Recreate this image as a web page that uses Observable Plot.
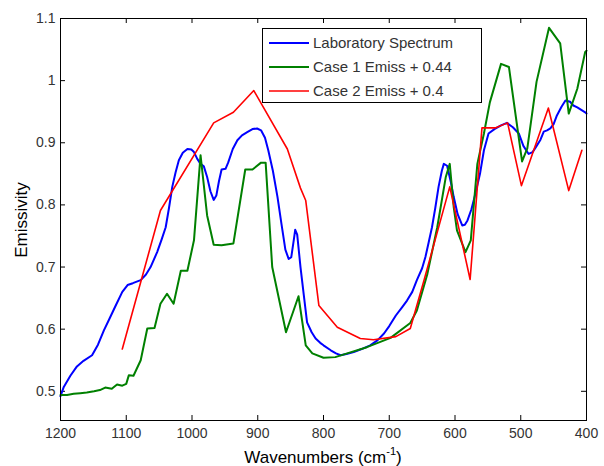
<!DOCTYPE html>
<html>
<head>
<meta charset="utf-8">
<script src="https://cdn.jsdelivr.net/npm/d3@7"></script>
<script src="https://cdn.jsdelivr.net/npm/@observablehq/plot@0.6"></script>
<style>
  html, body { margin: 0; padding: 0; background: #fff; }
</style>
</head>
<body>
<div id="chart"></div>
<script>
// ---- data ----
const xTicks = [1200, 1100, 1000, 900, 800, 700, 600, 500, 400];
const yTicks = [0.5, 0.6, 0.7, 0.8, 0.9, 1.0, 1.1];
const seriesNames = ["Laboratory Spectrum", "Case 1 Emiss + 0.44", "Case 2 Emiss + 0.4"];

const labWn = [1200,1195,1185,1175,1165,1152,1143,1134,1125,1116,1106,1098,1090,1078,1070,1063,1053,1046,1040,1035,1030,1025,1020,1014,1007,1001,997,992,987,982,977,972,967,963,959,955,949,945,938,931,924,916,908,901,895,889,884,877,870,864,858,853,849,845,843,840,835,830,825,818,812,805,800,789,781,774,765,754,742,729,718,708,700,690,680,673,665,658,650,645,640,635,630,625,620,617,612,606,602,596,589,585,581,575,569,562,556,549,540,530,521,512,503,496,488,482,477,470,465,460,455,450,445,438,432,425,420,414,408,402,400];
const labEm = [0.492,0.507,0.525,0.540,0.549,0.558,0.575,0.598,0.618,0.638,0.660,0.671,0.674,0.679,0.688,0.700,0.724,0.745,0.764,0.795,0.829,0.852,0.872,0.884,0.890,0.889,0.885,0.874,0.866,0.862,0.845,0.822,0.808,0.815,0.838,0.857,0.858,0.868,0.890,0.904,0.912,0.917,0.922,0.923,0.920,0.908,0.888,0.855,0.813,0.770,0.728,0.713,0.716,0.745,0.760,0.752,0.700,0.655,0.611,0.595,0.585,0.578,0.574,0.566,0.561,0.558,0.560,0.563,0.568,0.574,0.582,0.593,0.605,0.622,0.636,0.646,0.660,0.679,0.698,0.716,0.740,0.764,0.795,0.829,0.855,0.866,0.863,0.835,0.813,0.785,0.767,0.768,0.775,0.793,0.818,0.850,0.888,0.915,0.922,0.928,0.932,0.925,0.915,0.895,0.882,0.885,0.893,0.905,0.918,0.920,0.923,0.930,0.944,0.958,0.968,0.966,0.960,0.957,0.953,0.949,0.947];

const case1Wn = [1200,1190,1180,1170,1160,1149,1140,1132,1122,1114,1106,1100,1096,1089,1078,1068,1057,1048,1038,1028,1017,1007,997,987,977,967,955,937,919,908,895,888,878,857,838,827,817,800,782,764,734,698,668,658,642,627,614,608,602,597,584,576,566,556,547,530,518,498,490,476,457,440,427,414,402,400];
const case1Em = [0.494,0.494,0.496,0.497,0.498,0.500,0.502,0.506,0.504,0.511,0.509,0.512,0.526,0.525,0.550,0.601,0.602,0.641,0.657,0.641,0.694,0.694,0.743,0.880,0.783,0.736,0.735,0.738,0.857,0.857,0.868,0.868,0.700,0.595,0.653,0.574,0.561,0.554,0.555,0.561,0.571,0.586,0.610,0.630,0.689,0.764,0.845,0.866,0.797,0.759,0.724,0.743,0.866,0.915,0.965,1.027,1.022,0.870,0.891,0.998,1.085,1.060,0.947,0.987,1.046,1.048];

const case2Wn = [1106,1048,967,937,906,855,835,827,807,779,744,724,690,668,647,608,577,559,538,520,499,458,427,407];
const case2Em = [0.568,0.791,0.932,0.949,0.984,0.890,0.827,0.807,0.638,0.603,0.585,0.583,0.588,0.601,0.679,0.829,0.680,0.924,0.924,0.932,0.831,0.956,0.823,0.888];

const colors = ["#0000ff", "#008000", "#ff0000"];

// ---- tables built from the arrays ----
const toRows = (wn, em) => wn.map((w, i) => ({wn: w, em: em[i]}));
const lab = toRows(labWn, labEm);
const case1 = toRows(case1Wn, case1Em);
const case2 = toRows(case2Wn, case2Em);

const fmtY = d => String(+d.toFixed(1));
const font = "'Liberation Sans', Arial, Helvetica, sans-serif";

const W = 604, H = 466, mt = 18, mb = 46, ml = 60, mr = 18;
const tick = 5;
const innerW = W - ml - mr, innerH = H - mt - mb;

const chart = Plot.plot({
  width: W,
  height: H,
  marginTop: mt,
  marginBottom: mb,
  marginLeft: ml,
  marginRight: mr,
  style: {fontFamily: font, fontSize: "14px", background: "#fff", color: "#000"},
  x: {domain: [1200, 400]},
  y: {domain: [0.453, 1.1]},
  marks: [
    Plot.axisX({ticks: xTicks, tickSize: 0, tickPadding: 8, tickFormat: d => String(d), label: null, color: "#333"}),
    Plot.axisY({ticks: yTicks, tickSize: 0, tickPadding: 5, tickFormat: fmtY, label: null, color: "#333"}),
    // inward ticks on all four sides (MATLAB box style)
    Plot.tickX(xTicks, {x: d => d, insetTop: innerH - tick, stroke: "#000"}),
    Plot.tickX(xTicks, {x: d => d, insetBottom: innerH - tick, stroke: "#000"}),
    Plot.tickY(yTicks, {y: d => d, insetRight: innerW - tick, stroke: "#000"}),
    Plot.tickY(yTicks, {y: d => d, insetLeft: innerW - tick, stroke: "#000"}),
    Plot.line(lab, {x: "wn", y: "em", stroke: colors[0], strokeWidth: 2}),
    Plot.line(case1, {x: "wn", y: "em", stroke: colors[1], strokeWidth: 2}),
    Plot.line(case2, {x: "wn", y: "em", stroke: colors[2], strokeWidth: 1.6}),
    Plot.frame({stroke: "#000", strokeWidth: 1})
  ]
});

document.getElementById("chart").appendChild(chart);

// ---- axis titles and legend ----
const svg = d3.select(chart);

svg.append("text")
  .attr("transform", "translate(27,220) rotate(-90)")
  .attr("text-anchor", "middle")
  .attr("font-family", font)
  .attr("font-size", 17)
  .attr("fill", "#000")
  .text("Emissivity");

const xt = svg.append("text")
  .attr("x", 323)
  .attr("y", 463)
  .attr("text-anchor", "middle")
  .attr("font-family", font)
  .attr("font-size", 17)
  .attr("fill", "#000");
xt.append("tspan").text("Wavenumbers (cm");
xt.append("tspan").attr("dy", -8).attr("font-size", 11).text("-1");
xt.append("tspan").attr("dy", 8).text(")");

const lg = svg.append("g");
lg.append("rect")
  .attr("x", 262.5).attr("y", 28.5).attr("width", 219).attr("height", 74)
  .attr("fill", "#fff").attr("stroke", "#000").attr("stroke-width", 1);
seriesNames.forEach((name, i) => {
  const yy = 43 + i * 24;
  lg.append("line")
    .attr("x1", 269).attr("x2", 309).attr("y1", yy).attr("y2", yy)
    .attr("stroke", colors[i]).attr("stroke-width", i === 2 ? 1.6 : 2);
  lg.append("text")
    .attr("x", 313).attr("y", yy)
    .attr("dy", "0.35em")
    .attr("text-anchor", "start")
    .attr("font-family", font)
    .attr("font-size", 15)
    .attr("fill", "#333")
    .text(name);
});
</script>
</body>
</html>
